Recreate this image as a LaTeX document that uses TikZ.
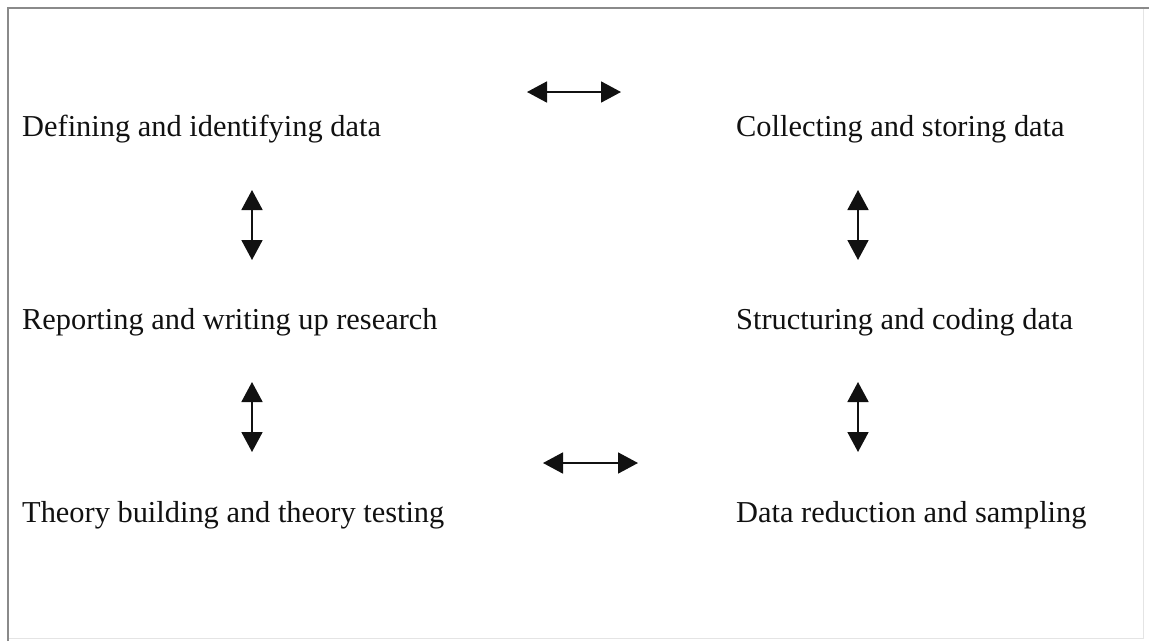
\documentclass[tikz,border=0pt]{standalone}
\usepackage{fontspec}
\setmainfont{Liberation Serif}
\usepackage{xcolor}
\usepackage{tikz}
\usetikzlibrary{arrows.meta,positioning}
\definecolor{ink}{HTML}{111111}
\definecolor{framegray}{HTML}{8A8A8A}
\definecolor{framelight}{HTML}{E4E4E4}
\tikzset{
  cycle diagram/.style={
    x=1pt,
    y=-1pt,
    font=\fontsize{30.4}{36}\selectfont,
    line cap=butt,
    line join=miter
  },
  stagetext/.style={
    anchor=base west,
    inner sep=0pt,
    text=ink
  },
  linkarrow/.style={
    {Triangle[length=20pt,width=21pt]}-{Triangle[length=20pt,width=21pt]},
    draw=ink,
    fill=ink,
    line width=1.8pt
  }
}
\begin{document}
\begin{tikzpicture}[cycle diagram]
\useasboundingbox (0,0) rectangle (1149,641);
% frame
\draw[framelight, line width=1pt] (1143,8) -- (1143,638) -- (8,638);
\draw[framegray, line width=1.6pt] (8,641) -- (8,8) -- (1149,8);

% stages
\node[stagetext] (define) at (22,136) {Defining and identifying data};
\node[stagetext] (collect) at (736,136) {Collecting and storing data};
\node[stagetext] (report) at (22,329) {Reporting and writing up research};
\node[stagetext] (structure) at (736,329) {Structuring and coding data};
\node[stagetext] (theory) at (22,522) {Theory building and theory testing};
\node[stagetext] (reduce) at (736,522) {Data reduction and sampling};

% arrow ends
\coordinate (topL) at (527,92);
\coordinate (topR) at (621,92);
\coordinate (botL) at (543,463);
\coordinate (botR) at (638,463);
\coordinate (leftA) at (252,190);
\coordinate (leftB) at (252,260);
\coordinate (leftC) at (252,382);
\coordinate (leftD) at (252,452);
\coordinate (rightA) at (858,190);
\coordinate (rightB) at (858,260);
\coordinate (rightC) at (858,382);
\coordinate (rightD) at (858,452);

\draw[linkarrow] (topL) -- (topR);
\draw[linkarrow] (botL) -- (botR);
\draw[linkarrow] (leftA) -- (leftB);
\draw[linkarrow] (leftC) -- (leftD);
\draw[linkarrow] (rightA) -- (rightB);
\draw[linkarrow] (rightC) -- (rightD);
\end{tikzpicture}
\end{document}
